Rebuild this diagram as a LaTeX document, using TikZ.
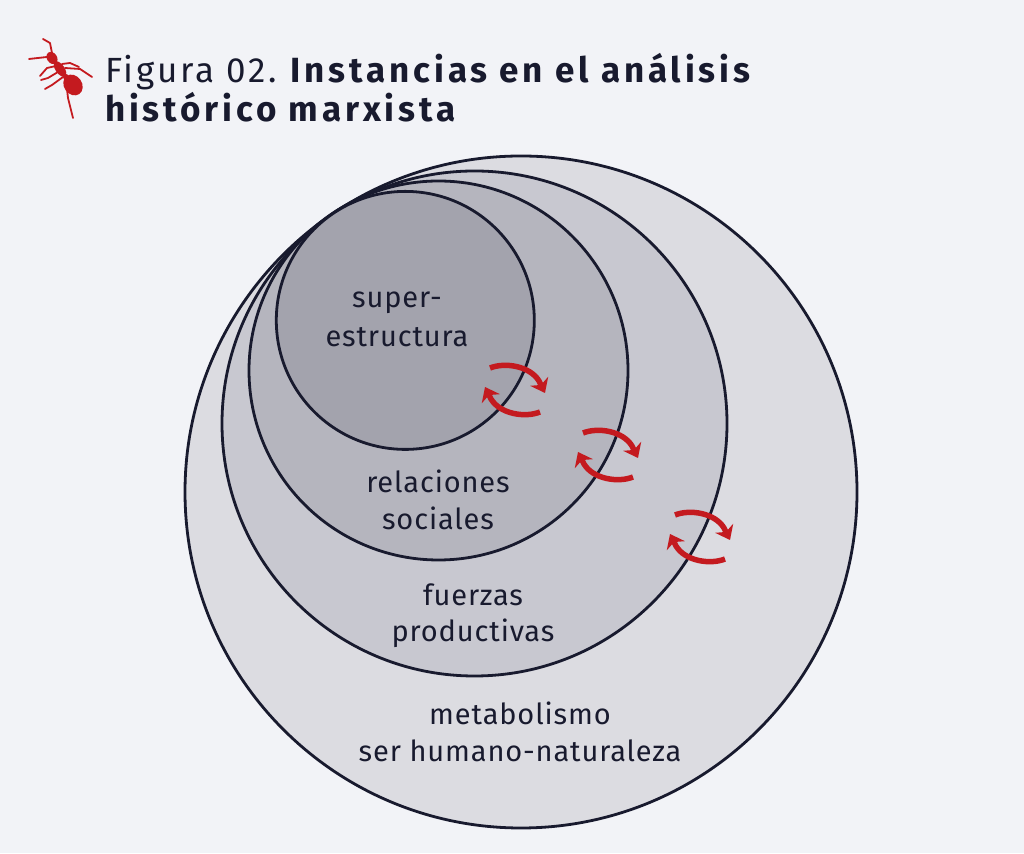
\documentclass[tikz,border=0pt]{standalone}
\usepackage{fontspec}
\setmainfont{Fira Sans}[LetterSpace=3]
\newfontfamily\titlelight{Fira Sans}[LetterSpace=8]
\newfontfamily\titlebold{Fira Sans}[LetterSpace=11]
\usetikzlibrary{arrows.meta,calc}
\definecolor{bg}{HTML}{F2F3F7}
\definecolor{ink}{HTML}{181A2E}
\definecolor{antred}{HTML}{C41A1F}
\definecolor{cA}{HTML}{DCDCE1}
\definecolor{cB}{HTML}{C8C8D0}
\definecolor{cC}{HTML}{B5B5BE}
\definecolor{cD}{HTML}{A3A3AD}
\tikzset{
  ring/.style={draw=ink,line width=2.8pt},
  lbl/.style={anchor=base,text=ink,inner sep=0pt,font=\fontsize{29}{33}\selectfont},
  cyc/.style={draw=antred,line width=5.5pt,-{Stealth[length=13pt,width=20pt,inset=4pt]}},
  antleg/.style={draw=antred,line width=1.8pt,line cap=round,line join=round},
}
\begin{document}
\begin{tikzpicture}[x=1pt,y=1pt]
\fill[bg] (0,0) rectangle (1024,853);
\useasboundingbox (0,0) rectangle (1024,853);
% circles
\coordinate (cO) at (521,361);
\coordinate (cF) at (474.5,429.5);
\coordinate (cR) at (438.5,482.5);
\coordinate (cS) at (405.3,532.6);
\filldraw[ring,fill=cA] (cO) circle (336);
\filldraw[ring,fill=cB] (cF) circle (252.5);
\filldraw[ring,fill=cC] (cR) circle (189.5);
\filldraw[ring,fill=cD] (cS) circle (129);
% labels
\node[lbl] (s1) at (397,545) {super-};
\node[lbl] (s2) at (397,506) {estructura};
\node[lbl] (r1) at (438,360) {relaciones};
\node[lbl] (r2) at (438,323) {sociales};
\node[lbl] (f1) at (473,247) {fuerzas};
\node[lbl] (f2) at (473,211) {productivas};
\node[lbl] (m1) at (520,128) {metabolismo};
\node[lbl] (m2) at (520,91) {ser humano-naturaleza};
% cycle arrows
\coordinate (a1) at (515,463);
\coordinate (a2) at (608,398);
\coordinate (a3) at (700,316);
\foreach \i in {1,2,3}{
  \begin{scope}[shift={(a\i)}]
    \draw[cyc] (-25,22) .. controls (-10,28) and (15,24) .. (24,9) -- (30,-3);
    \draw[cyc] (25,-22) .. controls (10,-28) and (-15,-24) .. (-24,-9) -- (-30,3);
  \end{scope}
}
% title
\node[anchor=base west,inner sep=0pt,text=ink,font=\fontsize{35}{39}\selectfont] (t1) at (105,770)
  {{\titlelight Figura 02.} {\titlebold\bfseries Instancias en el análisis}};
\node[anchor=base west,inner sep=0pt,text=ink,font=\fontsize{35}{39}\selectfont\titlebold\bfseries] (t2) at (105,731)
  {histórico marxista};
% ant
\begin{scope}[yshift=853pt,yscale=-1]
  \fill[antred] (73,85) ellipse[x radius=11,y radius=9,rotate=55];
  \fill[antred] (66,77) circle (3);
  \fill[antred] (60,69) ellipse[x radius=9,y radius=4.5,rotate=55];
  \fill[antred] (52,58) ellipse[x radius=6.5,y radius=5,rotate=55];
  \draw[antleg] (52,53) -- (50,43) -- (43,39);
  \draw[antleg] (47,57) -- (38,58) -- (29,59);
  \draw[antleg] (56,66) -- (47,68) -- (40,76);
  \draw[antleg] (58,72) -- (48,78) -- (41,80);
  \draw[antleg] (63,77) -- (52,85) -- (45,89);
  \draw[antleg] (62,64) -- (70,63) -- (79,67);
  \draw[antleg] (65,68) -- (80,69) -- (92,77);
  \draw[antleg] (66,80) -- (68,98) -- (73,118);
\end{scope}
\end{tikzpicture}
\end{document}
